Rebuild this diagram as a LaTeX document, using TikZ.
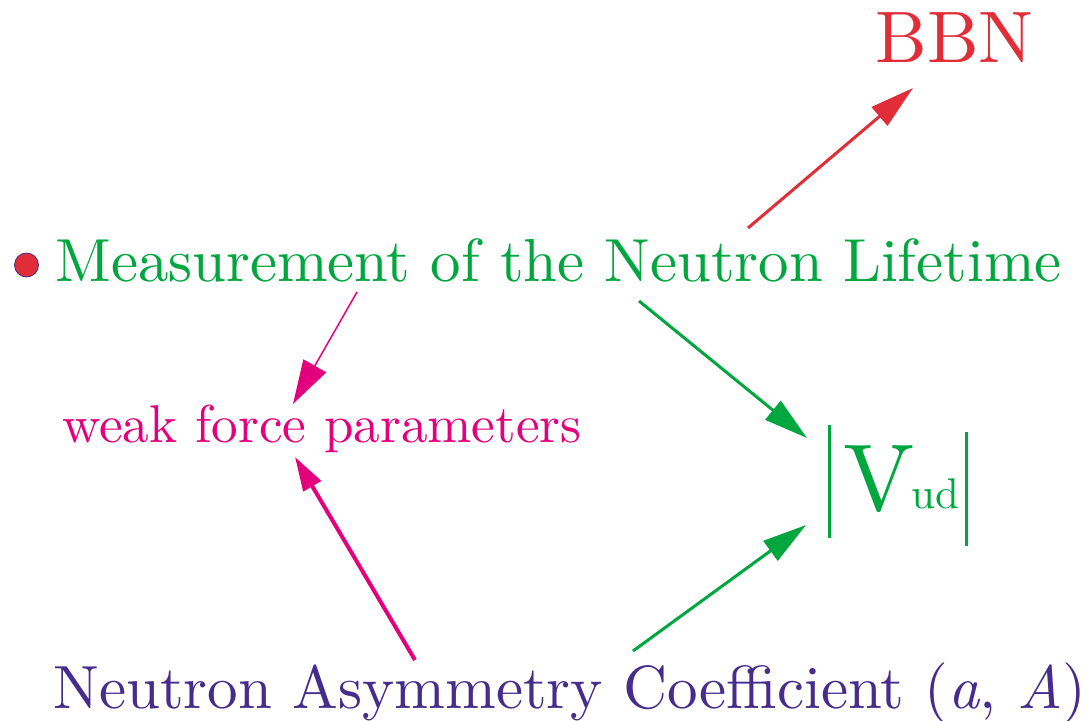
\documentclass[tikz,border=0pt]{standalone}
\usepackage{fontspec}
\setmainfont{lmroman10-regular.otf}[BoldFont=lmroman10-bold.otf, ItalicFont=lmroman10-italic.otf]
\usepackage{xcolor}
\usepackage{tikz}
\usetikzlibrary{arrows.meta}

\definecolor{lifegreen}{RGB}{0,166,62}
\definecolor{bbnred}{RGB}{225,45,55}
\definecolor{weakpink}{RGB}{228,0,125}
\definecolor{asympurple}{RGB}{70,45,140}

\begin{document}
\begin{tikzpicture}[
  x=0.5pt, y=-0.5pt,
  txt/.style={inner sep=0pt, anchor=base west},
  arr/.style={-{Triangle[length=22pt, width=12pt]}, line width=1.5pt}
]
  \useasboundingbox (0,0) rectangle (1086,721);
  \node[circle, fill=bbnred, draw=asympurple, line width=0.4pt, minimum size=12pt, inner sep=0pt] (dot) at (26.5,265) {};
  \node[txt, text=lifegreen, font=\fontsize{30.4}{36}\selectfont] (meas) at (55,282) {Measurement of the Neutron Lifetime};
  \node[txt, text=bbnred, font=\fontsize{36.5}{42}\selectfont] (bbn) at (875,63) {BBN};
  \node[txt, text=weakpink, font=\fontsize{26.6}{30}\selectfont] (weak) at (62,442) {weak force parameters};
  \node[txt, text=asympurple, font=\fontsize{30.5}{36}\selectfont] (asym) at (53,708) {Neutron Asymmetry Coefficient (\textit{a}, \textit{A})};
  \node[txt, text=lifegreen, font=\fontsize{47.5}{54}\selectfont] (vud) at (843,510) {V};
  \node[txt, text=lifegreen, font=\fontsize{21.5}{26}\selectfont] (ud) at (911,508) {ud};
  % the |...| round V_ud
  \draw[lifegreen, line width=1.5pt] ([shift={(-14,-85)}]vud.base west) -- ([shift={(-14,28)}]vud.base west);
  \draw[lifegreen, line width=1.5pt] ([shift={(123,-78)}]vud.base west) -- ([shift={(123,36)}]vud.base west);
  % arrows
  \draw[arr, bbnred] ([shift={(693,-54)}]meas.base west) -- ([shift={(38,25)}]bbn.base west);
  \draw[arr, weakpink, line width=0.75pt, -{Triangle[length=22pt, width=13pt]}] ([shift={(302,10)}]meas.base west) -- ([shift={(231,-38)}]weak.base west);
  \draw[arr, weakpink, line width=2pt, -{Triangle[length=17pt, width=10pt]}] ([shift={(362,-48)}]asym.base west) -- ([shift={(233,15)}]weak.base west);
  \draw[arr, lifegreen] ([shift={(584,19)}]meas.base west) -- ([shift={(-36,-72)}]vud.base west);
  \draw[arr, lifegreen] ([shift={(580,-57)}]asym.base west) -- ([shift={(-37,15)}]vud.base west);
\end{tikzpicture}
\end{document}
